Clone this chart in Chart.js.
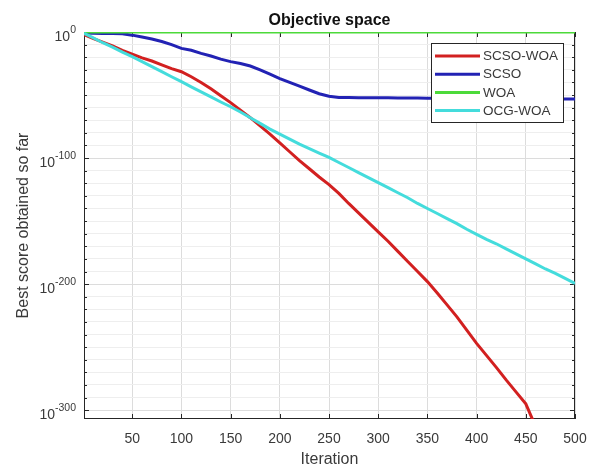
<!DOCTYPE html>
<html lang="en">
<head>
    <meta charset="UTF-8">
    <title>Objective space</title>
    <script src="https://cdn.jsdelivr.net/npm/chart.js"></script>
    <style>
        html, body { margin: 0; padding: 0; background: #fff; }
        #wrap { width: 595px; height: 470px; }
    </style>
</head>
<body>

<div id="wrap"><canvas id="convChart"></canvas></div>

<script>
    // iteration numbers where the curves are sampled
    const iterations = [1, 10, 20, 30, 40, 50, 60, 70, 80, 90, 100, 110, 120, 130, 140, 150, 160, 170, 180, 190, 200,
        210, 220, 230, 240, 250, 260, 270, 280, 290, 300, 310, 320, 330, 340, 350, 360, 370, 380, 390, 400,
        410, 420, 430, 440, 450, 460, 470, 480, 490, 500];

    // best score so far, stored as log10 (exponent) values
    const scsoWoa = [-2, -5, -8, -11, -14.5, -17.5, -20.5, -23, -26, -29, -31.5, -35.5, -40, -45, -50.5, -56, -62, -68, -74.5, -81, -88,
        -95, -102, -108.5, -115, -121, -128, -136, -143.5, -151, -158.5, -166, -174, -182, -190, -198, -207, -216.5, -226, -236.5, -247,
        -256.5, -266, -276, -285.5, -295, -313, null, null, null, null];
    const scso = [-0.8, -1, -1.1, -1.2, -1.4, -2.5, -4, -5.5, -7.5, -10, -13, -14.5, -17, -19, -21.5, -23.5, -25, -27, -30, -33.5, -37,
        -40, -43, -46, -49, -51, -52, -52, -52.1, -52.1, -52.2, -52.2, -52.3, -52.3, -52.4, -52.5, -52.5, -52.6, -52.6, -52.7, -52.8,
        -52.8, -52.9, -52.9, -53, -53, -53.1, -53.1, -53.2, -53.2, -53.2];
    const woa = [0, 0, 0, 0, 0, 0, 0, 0, 0, 0, 0, 0, 0, 0, 0, 0, 0, 0, 0, 0, 0,
        0, 0, 0, 0, 0, 0, 0, 0, 0, 0, 0, 0, 0, 0, 0, 0, 0, 0, 0, 0,
        0, 0, 0, 0, 0, 0, 0, 0, 0, 0];
    const ocgWoa = [-1, -4.5, -8.5, -12, -16, -19.6, -23.5, -27.5, -31.5, -35.5, -39.4, -43.5, -47.5, -51.5, -55.5, -59.3, -63.5, -68, -72.5, -77, -81,
        -85, -89, -92.5, -96, -99.5, -103.5, -107.5, -111.5, -115.5, -119.5, -123.5, -127.5, -131.5, -136, -140, -144, -148, -152, -156.5, -160.5,
        -164.5, -168, -172, -176, -180, -184, -188, -191.5, -195.5, -199.5];

    const seriesNames = ['SCSO-WOA', 'SCSO', 'WOA', 'OCG-WOA'];
    const xTicks = [50, 100, 150, 200, 250, 300, 350, 400, 450, 500];
    const yTickExps = [0, -100, -200, -300];

    const axisColor = '#262626';
    const textColor = '#3a3a3a';
    const fontFamily = '"Liberation Sans", Arial, Helvetica, sans-serif';

    function toPoints(values) {
        return values.map((v, i) => ({ x: iterations[i], y: v }));
    }

    // MATLAB style box, inner ticks, labels and legend
    const matlabLook = {
        id: 'matlabLook',
        beforeDatasetsDraw(chart) {
            const { ctx, chartArea: a, scales: { x, y } } = chart;
            ctx.save();
            ctx.strokeStyle = axisColor;
            ctx.lineWidth = 1;
            ctx.strokeRect(a.left + 0.5, a.top + 0.5, a.width - 1, a.height - 1);
            ctx.beginPath();
            xTicks.forEach(v => {
                const px = Math.round(x.getPixelForValue(v)) + 0.5;
                ctx.moveTo(px, a.bottom); ctx.lineTo(px, a.bottom - 5);
                ctx.moveTo(px, a.top); ctx.lineTo(px, a.top + 5);
            });
            y.ticks.forEach(t => {
                const py = Math.round(y.getPixelForValue(t.value)) + 0.5;
                const len = t.value % 100 === 0 ? 5 : 3;
                ctx.moveTo(a.left, py); ctx.lineTo(a.left + len, py);
                ctx.moveTo(a.right, py); ctx.lineTo(a.right - len, py);
            });
            ctx.stroke();
            ctx.restore();
        },
        afterDraw(chart) {
            const { ctx, chartArea: a, scales: { x, y } } = chart;
            ctx.save();
            ctx.fillStyle = textColor;
            ctx.textBaseline = 'alphabetic';

            // x tick labels
            ctx.font = '14px ' + fontFamily;
            ctx.textAlign = 'center';
            xTicks.forEach(v => ctx.fillText(String(v), x.getPixelForValue(v), a.bottom + 24));

            // y tick labels as 10^n
            ctx.textAlign = 'left';
            yTickExps.forEach(e => {
                const py = y.getPixelForValue(e);
                const sup = String(e);
                const right = a.left - 8;
                ctx.font = '10.5px ' + fontFamily;
                const sw = ctx.measureText(sup).width;
                ctx.fillText(sup, right - sw, py + 1);
                ctx.font = '14px ' + fontFamily;
                const bw = ctx.measureText('10').width;
                ctx.fillText('10', right - sw - bw, py + 8.5);
            });

            // axis titles
            ctx.font = '16px ' + fontFamily;
            ctx.textAlign = 'center';
            ctx.fillText('Iteration', (a.left + a.right) / 2, a.bottom + 45);
            ctx.save();
            ctx.translate(28, (a.top + a.bottom) / 2);
            ctx.rotate(-Math.PI / 2);
            ctx.fillText('Best score obtained so far', 0, 0);
            ctx.restore();

            // title
            ctx.fillStyle = '#111';
            ctx.font = 'bold 16px ' + fontFamily;
            ctx.fillText('Objective space', (a.left + a.right) / 2, a.top - 7);

            // legend
            const lx = a.right - 144, ly = a.top + 11, lw = 132, lh = 79;
            ctx.fillStyle = '#fff';
            ctx.fillRect(lx, ly, lw, lh);
            ctx.strokeStyle = axisColor;
            ctx.lineWidth = 1;
            ctx.strokeRect(lx + 0.5, ly + 0.5, lw, lh);
            ctx.font = '13.5px ' + fontFamily;
            ctx.textAlign = 'left';
            ctx.textBaseline = 'middle';
            chart.data.datasets.forEach((ds, i) => {
                const ry = ly + 13 + i * 18.2;
                ctx.strokeStyle = ds.borderColor;
                ctx.lineWidth = 3;
                ctx.beginPath();
                ctx.moveTo(lx + 4, ry);
                ctx.lineTo(lx + 49, ry);
                ctx.stroke();
                ctx.fillStyle = textColor;
                ctx.fillText(ds.label, lx + 52, ry + 0.5);
            });
            ctx.restore();
        }
    };

    const ctx = document.getElementById('convChart').getContext('2d');
    new Chart(ctx, {
        type: 'line',
        data: {
            datasets: [
                { label: seriesNames[0], data: toPoints(scsoWoa), borderColor: '#d22020', order: 3 },
                { label: seriesNames[1], data: toPoints(scso), borderColor: '#2222b4', order: 2 },
                { label: seriesNames[2], data: toPoints(woa), borderColor: '#4cda3a', order: 1 },
                { label: seriesNames[3], data: toPoints(ocgWoa), borderColor: '#44dcdc', order: 0 },
            ],
        },
        options: {
            responsive: true,
            maintainAspectRatio: false,
            animation: false,
            layout: { padding: { left: 84, right: 20, top: 32, bottom: 51 } },
            elements: {
                line: { borderWidth: 3, tension: 0, fill: false },
                point: { radius: 0, hoverRadius: 0 },
            },
            plugins: {
                legend: { display: false },
                title: { display: false },
                tooltip: { enabled: false },
            },
            scales: {
                x: {
                    type: 'linear',
                    min: 1,
                    max: 500,
                    afterBuildTicks: scale => { scale.ticks = xTicks.map(v => ({ value: v })); },
                    ticks: { display: false },
                    grid: { drawTicks: false, color: '#dcdcdc', lineWidth: 1 },
                    border: { display: false },
                },
                y: {
                    type: 'linear',
                    min: -307,
                    max: 0,
                    afterBuildTicks: scale => {
                        const t = [];
                        for (let e = 0; e >= -300; e -= 10) t.push({ value: e });
                        scale.ticks = t;
                    },
                    ticks: { display: false },
                    grid: {
                        drawTicks: false,
                        lineWidth: 1,
                        color: c => (c.tick && c.tick.value % 100 === 0) ? '#dcdcdc' : '#eeeeee',
                    },
                    border: { display: false },
                },
            },
        },
        plugins: [matlabLook],
    });
</script>

</body>
</html>
